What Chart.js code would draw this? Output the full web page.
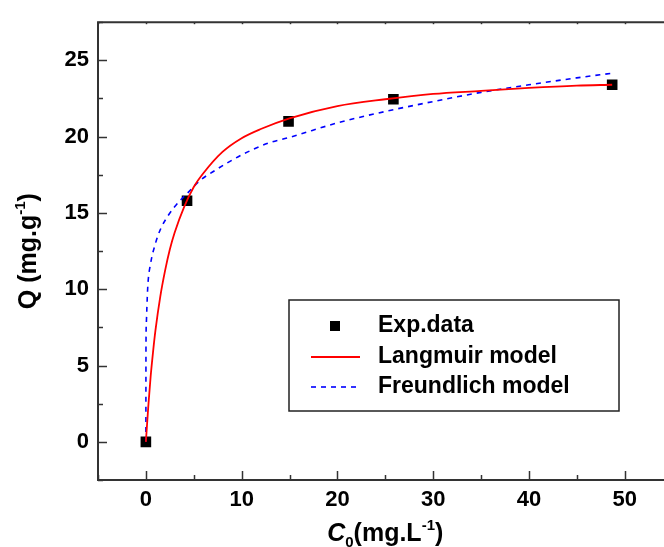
<!DOCTYPE html>
<html>
<head>
<meta charset="utf-8">
<script src="https://cdn.jsdelivr.net/npm/chart.js@4"></script>
<style>
  html, body { margin: 0; padding: 0; background: #fff; overflow: hidden; }
  canvas { display: block; }
</style>
</head>
<body>
<canvas id="iso-chart" width="680" height="547"></canvas>
<script>
// Experimental points
const expC = [0, 4.3, 14.9, 25.85, 48.7];
const expQ = [0, 15.8, 21.0, 22.45, 23.4];

// Langmuir fit curve
const langC = [0, 0.25, 0.5, 0.75, 1, 1.5, 2, 2.5, 3, 4, 5, 6, 8, 10, 12, 15, 20, 25, 30, 35, 40, 45, 48.7];
const langQ = [0, 2.3, 4.3, 5.9, 7.3, 9.5, 11.2, 12.6, 13.7, 15.4, 16.7, 17.6, 19.0, 19.9, 20.5, 21.2, 22.0, 22.45, 22.8, 23.0, 23.2, 23.35, 23.4];

// Freundlich fit curve
const freuC = [0, 0.01, 0.05, 0.1, 0.2, 0.5, 1, 1.5, 2.3, 3, 3.7, 4.5, 5.6, 7, 10, 12.9, 15, 20, 25, 30, 35, 40, 45, 48.6];
const freuQ = [0, 6.0, 7.8, 8.7, 10.2, 11.7, 13.0, 13.9, 14.8, 15.4, 15.9, 16.4, 17.1, 17.7, 18.8, 19.6, 19.95, 20.9, 21.65, 22.3, 22.9, 23.4, 23.85, 24.15];

// Axis ranges / ticks
const xMin = -5, xMax = 55, xStep = 5, xLabelEvery = 10;
const yMin = -2.5, yMax = 27.5, yStep = 2.5, yLabelEvery = 5;

const FONT = "'Liberation Sans', Arial, sans-serif";
const AXIS = '#333';

const toXY = (xs, ys) => xs.map((x, i) => ({ x, y: ys[i] }));

// frame + inward ticks
const framePlugin = {
  id: 'frame',
  afterDatasetsDraw(chart) {
    const { ctx, chartArea: a, scales: { x, y } } = chart;
    ctx.save();
    ctx.strokeStyle = AXIS;
    ctx.lineWidth = 1.5;
    x.ticks.forEach(t => {
      const px = Math.round(x.getPixelForValue(t.value)) + 0.5;
      const len = t.value % xLabelEvery === 0 ? 9 : 5;
      ctx.beginPath(); ctx.moveTo(px, a.bottom); ctx.lineTo(px, a.bottom - len); ctx.stroke();
      // small mirrored ticks on the top border
      ctx.beginPath(); ctx.moveTo(px, a.top); ctx.lineTo(px, a.top + 2); ctx.stroke();
    });
    y.ticks.forEach(t => {
      const py = Math.round(y.getPixelForValue(t.value)) + 0.5;
      const len = t.value % yLabelEvery === 0 ? 9 : 5;
      ctx.beginPath(); ctx.moveTo(a.left, py); ctx.lineTo(a.left + len, py); ctx.stroke();
    });
    ctx.lineWidth = 2;
    ctx.beginPath();
    ctx.moveTo(a.left, a.top); ctx.lineTo(a.right, a.top);
    ctx.lineTo(a.right, a.bottom); ctx.lineTo(a.left, a.bottom);
    ctx.closePath();
    ctx.stroke();
    ctx.restore();
  }
};

// axis titles with sub/superscripts
const titlePlugin = {
  id: 'titles',
  afterDraw(chart) {
    const { ctx, chartArea: a } = chart;
    const big = 'bold 25px ' + FONT;
    const small = 'bold 15px ' + FONT;
    ctx.save();
    ctx.fillStyle = '#000';
    ctx.textBaseline = 'alphabetic';

    // x title: C0(mg.L-1)
    const parts = [
      { t: 'C', f: 'italic ' + big, dy: 0 },
      { t: '0', f: small, dy: 6 },
      { t: '(mg.L', f: big, dy: 0 },
      { t: '-1', f: small, dy: -11 },
      { t: ')', f: big, dy: 0 },
    ];
    let w = 0;
    parts.forEach(p => { ctx.font = p.f; p.w = ctx.measureText(p.t).width; w += p.w; });
    let cx = (a.left + a.right) / 2 - w / 2;
    parts.forEach(p => { ctx.font = p.f; ctx.fillText(p.t, cx, 541 + p.dy); cx += p.w; });

    // y title: Q (mg.g-1)
    const yparts = [
      { t: 'Q (mg.g', f: big, dy: 0 },
      { t: '-1', f: small, dy: -11 },
      { t: ')', f: big, dy: 0 },
    ];
    w = 0;
    yparts.forEach(p => { ctx.font = p.f; p.w = ctx.measureText(p.t).width; w += p.w; });
    ctx.translate(36, (a.top + a.bottom) / 2);
    ctx.rotate(-Math.PI / 2);
    cx = -w / 2;
    yparts.forEach(p => { ctx.font = p.f; ctx.fillText(p.t, cx, p.dy); cx += p.w; });
    ctx.restore();
  }
};

// boxed legend inside the plot
const legendPlugin = {
  id: 'boxLegend',
  afterDraw(chart) {
    const { ctx } = chart;
    const box = { l: 289, t: 300, r: 619, b: 411 };
    const rows = [326, 357, 387];
    ctx.save();
    ctx.strokeStyle = '#222';
    ctx.lineWidth = 1.5;
    ctx.strokeRect(box.l, box.t, box.r - box.l, box.b - box.t);
    ctx.font = 'bold 23px ' + FONT;
    ctx.textBaseline = 'middle';
    ctx.fillStyle = '#000';
    chart.data.datasets.forEach((ds, i) => {
      const yy = rows[i];
      if (ds.showLine) {
        ctx.strokeStyle = ds.borderColor;
        ctx.lineWidth = ds.borderWidth;
        ctx.setLineDash(ds.borderDash || []);
        ctx.beginPath(); ctx.moveTo(311, yy); ctx.lineTo(360, yy); ctx.stroke();
        ctx.setLineDash([]);
      } else {
        ctx.fillStyle = ds.backgroundColor;
        ctx.fillRect(330, yy - 5, 10, 10);
      }
      ctx.fillStyle = '#000';
      ctx.fillText(ds.label, 378, yy);
    });
    ctx.restore();
  }
};

new Chart(document.getElementById('iso-chart'), {
  type: 'scatter',
  data: {
    datasets: [
      {
        label: 'Exp.data',
        data: toXY(expC, expQ),
        pointStyle: 'rect',
        pointRadius: 7.5,
        backgroundColor: '#000',
        borderColor: '#000',
        borderWidth: 0,
        showLine: false,
        order: 3,
      },
      {
        label: 'Langmuir model',
        data: toXY(langC, langQ),
        showLine: true,
        borderColor: '#ff0000',
        borderWidth: 1.8,
        pointRadius: 0,
        cubicInterpolationMode: 'monotone',
        order: 1,
      },
      {
        label: 'Freundlich model',
        data: toXY(freuC, freuQ),
        showLine: true,
        borderColor: '#0000ff',
        borderWidth: 1.6,
        borderDash: [5, 5],
        pointRadius: 0,
        cubicInterpolationMode: 'monotone',
        order: 2,
      },
    ],
  },
  options: {
    responsive: false,
    animation: false,
    layout: { padding: { top: 16, right: 6, left: 0, bottom: 0 } },
    plugins: {
      legend: { display: false },
      tooltip: { enabled: false },
    },
    scales: {
      x: {
        type: 'linear',
        min: xMin,
        max: xMax,
        afterFit: s => { s.height = 67; },
        grid: { display: false, drawTicks: false },
        border: { display: false },
        ticks: {
          stepSize: xStep,
          autoSkip: false,
          maxRotation: 0,
          padding: 7,
          color: '#000',
          font: { family: FONT, size: 22, weight: 'bold' },
          callback: v => (v % xLabelEvery === 0 ? v : ''),
        },
      },
      y: {
        type: 'linear',
        min: yMin,
        max: yMax,
        afterFit: s => { s.width = 98; },
        grid: { display: false, drawTicks: false },
        border: { display: false },
        ticks: {
          stepSize: yStep,
          autoSkip: false,
          padding: 9,
          color: '#000',
          font: { family: FONT, size: 22, weight: 'bold' },
          callback: v => (v % yLabelEvery === 0 ? v : ''),
        },
      },
    },
  },
  plugins: [framePlugin, titlePlugin, legendPlugin],
});
</script>
</body>
</html>
